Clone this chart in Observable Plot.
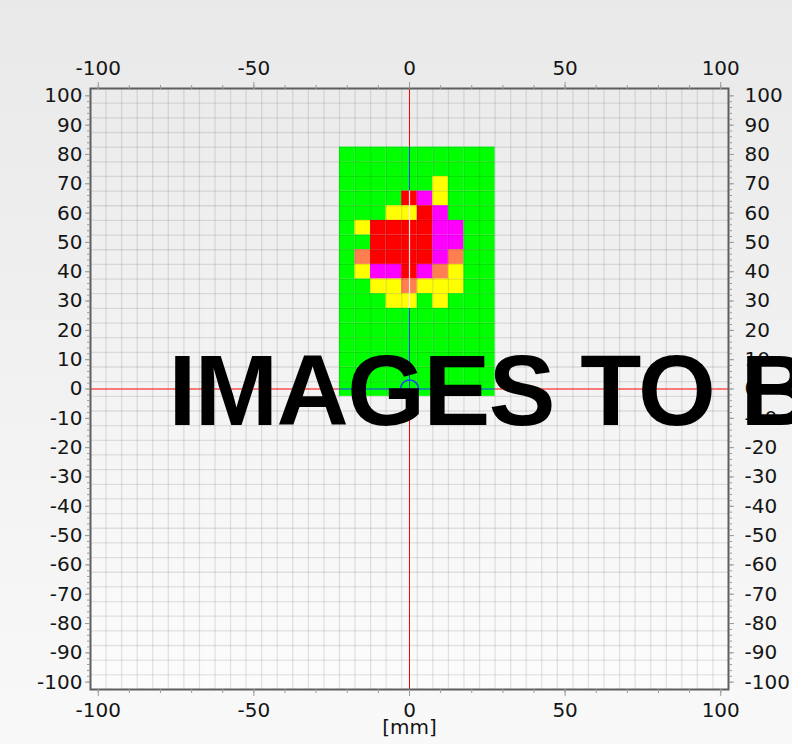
<!DOCTYPE html>
<html>
<head>
<meta charset="utf-8">
<script src="https://cdn.jsdelivr.net/npm/d3@7"></script>
<script src="https://cdn.jsdelivr.net/npm/@observablehq/plot@0.6"></script>
<style>
  html, body { margin: 0; padding: 0; }
  body { width: 792px; height: 744px; overflow: hidden; background: linear-gradient(#e9e9e9, #f9f9f9); }
  #chart svg { display: block; }
</style>
</head>
<body>
<div id="chart"></div>
<script>
// ---- data ----
const xCenters = [-20, -15, -10, -5, 0, 5, 10, 15, 20, 25];
const yCenters = [80, 75, 70, 65, 60, 55, 50, 45, 40, 35, 30, 25, 20, 15, 10, 5, 0];
const rowCodes = [
  "GGGGGGGGGG", // 80
  "GGGGGGGGGG", // 75
  "GGGGGGYGGG", // 70
  "GGGGRMYGGG", // 65
  "GGGYYRMGGG", // 60
  "GYRRRRMMGG", // 55
  "GGRRRRMMGG", // 50
  "GORRRRMOGG", // 45
  "GYMMRMOYGG", // 40
  "GGYYOYYYGG", // 35
  "GGGYYGYGGG", // 30
  "GGGGGGGGGG", // 25
  "GGGGGGGGGG", // 20
  "GGGGGGGGGG", // 15
  "GGGGGGGGGG", // 10
  "GGGGGGGGGG", // 5
  "GGGGGGGGGG"  // 0
];
const categoryCodes = ["G", "Y", "O", "M", "R"];
const categoryColors = ["#00ff00", "#ffff00", "#ff7f50", "#ff00ff", "#ff0000"];
const xTickLabels = [-100, -50, 0, 50, 100];
const xMinorTicks = [-100, -90, -80, -70, -60, -50, -40, -30, -20, -10, 0, 10, 20, 30, 40, 50, 60, 70, 80, 90, 100];
const yTickLabels = [-100, -90, -80, -70, -60, -50, -40, -30, -20, -10, 0, 10, 20, 30, 40, 50, 60, 70, 80, 90, 100];
const cellSize = 5;
const axisLimit = 102.5;
const axisTitle = "[mm]";
const watermark = "IMAGES TO B";

// ---- derived tables ----
const cells = [];
rowCodes.forEach((row, i) => [...row].forEach((c, j) => cells.push({x: xCenters[j], y: yCenters[i], code: c})));
const gridLines = d3.range(-axisLimit + cellSize, axisLimit, cellSize);
const yMinorTicks = d3.range(-100, 101, 2);
const half = cellSize / 2;
const regionTop = d3.max(yCenters) + half;
const regionBottom = d3.min(yCenters) - half;
const regionLeft = d3.min(xCenters) - half;
const regionRight = d3.max(xCenters) + half;

// crosshair segments
const redV = [{x: 0, y1: -axisLimit, y2: regionBottom}, {x: 0, y1: regionTop, y2: axisLimit}];
const blueV = cells.filter(d => d.x === 0 && d.code === "G").map(d => ({x: 0, y1: d.y - half, y2: d.y + half}));
const paleV = cells.filter(d => d.x === 0 && d.code !== "G").map(d => ({x: 0, y1: d.y - half, y2: d.y + half}));
const redH = [{y: 0, x1: -axisLimit, x2: regionLeft}, {y: 0, x1: regionRight, x2: axisLimit}];
const blueH = [{y: 0, x1: regionLeft, x2: regionRight}];

const FONT = "DejaVu Sans";
const FS = 20;
const tickStroke = "#9a9a9a";
const textFill = "#151515";
const fmt = d => String(d);
const blue = "#1f3dff";

const chart = Plot.plot({
  width: 792,
  height: 744,
  marginLeft: 90,
  marginRight: 64,
  marginTop: 88,
  marginBottom: 55,
  style: {fontFamily: FONT, fontSize: FS + "px", background: "transparent", color: textFill},
  x: {domain: [-axisLimit, axisLimit]},
  y: {domain: [-axisLimit, axisLimit]},
  color: {domain: categoryCodes, range: categoryColors},
  marks: [
    Plot.frame({fill: "url(#plotbg)"}),
    Plot.rect(cells, {x1: d => d.x - half, x2: d => d.x + half, y1: d => d.y - half, y2: d => d.y + half, fill: "code"}),
    Plot.ruleX(gridLines, {stroke: "#000", strokeOpacity: 0.1, strokeWidth: 1.3}),
    Plot.ruleY(gridLines, {stroke: "#000", strokeOpacity: 0.1, strokeWidth: 1.3}),
    Plot.ruleX(redV, {x: "x", y1: "y1", y2: "y2", stroke: "#ff0000", strokeWidth: 1}),
    Plot.ruleY(redH, {y: "y", x1: "x1", x2: "x2", stroke: "#ff0000", strokeWidth: 1}),
    Plot.ruleX(blueV, {x: "x", y1: "y1", y2: "y2", stroke: blue, strokeWidth: 1}),
    Plot.ruleX(paleV, {x: "x", y1: "y1", y2: "y2", stroke: "#ffeaea", strokeWidth: 1.2}),
    Plot.ruleY(blueH, {y: "y", x1: "x1", x2: "x2", stroke: blue, strokeWidth: 1}),
    Plot.dot([{x: 0, y: 0}], {x: "x", y: "y", r: 9, stroke: blue, strokeWidth: 1.5, fill: "none"}),
    Plot.frame({stroke: "#5e5e5e", strokeWidth: 2}),
    // axes
    Plot.axisX(xMinorTicks, {anchor: "top", tickSize: 4, fill: "none", stroke: tickStroke, label: null}),
    Plot.axisX(xTickLabels, {anchor: "top", tickSize: 7, tickPadding: 7, tickFormat: fmt, stroke: tickStroke, fill: textFill, fontSize: FS, label: null}),
    Plot.axisX(xMinorTicks, {anchor: "bottom", tickSize: 4, fill: "none", stroke: tickStroke, label: null}),
    Plot.axisX(xTickLabels, {anchor: "bottom", tickSize: 7, tickPadding: 6, tickFormat: fmt, stroke: tickStroke, fill: textFill, fontSize: FS, label: null}),
    Plot.axisY(yMinorTicks, {anchor: "left", tickSize: 3, fill: "none", stroke: tickStroke, label: null}),
    Plot.axisY(yTickLabels, {anchor: "left", tickSize: 5, tickPadding: 3, tickFormat: fmt, stroke: tickStroke, fill: textFill, fontSize: FS, label: null}),
    Plot.axisY(yMinorTicks, {anchor: "right", tickSize: 3, fill: "none", stroke: tickStroke, label: null}),
    Plot.axisY(yTickLabels, {anchor: "right", tickSize: 5, tickPadding: 11, tickFormat: fmt, stroke: tickStroke, fill: textFill, fontSize: FS, label: null}),
    Plot.text([axisTitle], {text: d => d, frameAnchor: "bottom", dy: 44, fontSize: FS, fill: textFill}),
    Plot.text([watermark], {text: d => d, frameAnchor: "left", textAnchor: "start", dx: 78, dy: 4, fontSize: 100, fontWeight: "bold", fontFamily: "Liberation Sans", fill: "#000"})
  ]
});

const defs = d3.select(chart).insert("defs", ":first-child");
const grad = defs.append("linearGradient").attr("id", "plotbg").attr("x1", 0).attr("y1", 0).attr("x2", 0).attr("y2", 1);
grad.append("stop").attr("offset", 0).attr("stop-color", "#ebebeb");
grad.append("stop").attr("offset", 1).attr("stop-color", "#fcfcfc");
d3.select(chart).selectAll("text").filter(function () { return this.textContent === watermark; }).attr("letter-spacing", "-1.5px");

document.getElementById("chart").appendChild(chart);
</script>
</body>
</html>
